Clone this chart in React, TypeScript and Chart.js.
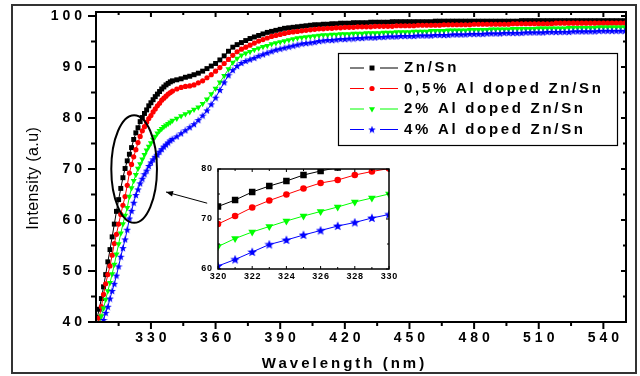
import React, { useEffect, useRef } from 'react';
import { Chart, registerables } from 'chart.js';
import { drawPoint } from 'chart.js/helpers';

Chart.register(...registerables);

// ---------------- data ----------------
const wavelengths = [
  305, 306, 307, 308, 309, 310, 311, 312, 313, 314,
  315, 316, 317, 318, 319, 320, 321, 322, 323, 324,
  325, 326, 327, 328, 329, 330, 331, 332, 333, 334,
  335, 336, 337, 338, 339, 340,
  342, 344, 346, 348, 350, 352, 354, 356, 358, 360,
  362, 364, 366, 368, 370, 372, 374, 376, 378, 380,
  382, 384, 386, 388, 390, 392, 394, 396, 398, 400,
  402, 404, 406, 408, 410, 412, 414, 416, 418, 420,
  422, 424, 426, 428, 430, 432, 434, 436, 438, 440,
  442, 444, 446, 448, 450, 452, 454, 456, 458, 460,
  462, 464, 466, 468, 470, 472, 474, 476, 478, 480,
  482, 484, 486, 488, 490, 492, 494, 496, 498, 500,
  502, 504, 506, 508, 510, 512, 514, 516, 518, 520,
  522, 524, 526, 528, 530, 532, 534, 536, 538, 540,
  542, 544, 546, 548, 550,
];

const znSn = [
  40.8, 42.5, 44.6, 46.9, 49.3, 51.8, 54.2, 56.7, 59.2, 61.7,
  64.0, 66.2, 68.3, 70.1, 71.6, 72.9, 74.2, 75.8, 77.1, 78.1,
  79.3, 80.1, 80.9, 81.6, 82.4, 83.0, 83.6, 84.2, 84.7, 85.2,
  85.7, 86.1, 86.5, 86.8, 87.1, 87.3,
  87.5, 87.7, 88.0, 88.2, 88.5, 88.8, 89.2, 89.7, 90.2, 90.7,
  91.4, 92.2, 93.1, 93.9, 94.4, 94.8, 95.2, 95.6, 95.9, 96.2,
  96.5, 96.8, 97.0, 97.2, 97.4, 97.6, 97.7, 97.8, 97.9, 98.0,
  98.1, 98.2, 98.3, 98.3, 98.4, 98.4, 98.5, 98.5, 98.6, 98.6,
  98.6, 98.7, 98.7, 98.7, 98.7, 98.8, 98.8, 98.8, 98.8, 98.8,
  98.9, 98.9, 98.9, 98.9, 98.9, 98.9, 98.9, 98.9, 98.9, 98.9,
  99.0, 99.0, 99.0, 99.0, 99.0, 99.0, 99.0, 99.0, 99.0, 99.0,
  99.0, 99.0, 99.0, 99.0, 99.0, 99.0, 99.0, 99.0, 99.0, 99.0,
  99.1, 99.1, 99.1, 99.1, 99.1, 99.1, 99.1, 99.1, 99.1, 99.1,
  99.1, 99.1, 99.1, 99.1, 99.1, 99.1, 99.1, 99.1, 99.1, 99.1,
  99.1, 99.1, 99.1, 99.1, 99.1,
];

const al05 = [
  39.0, 40.8, 43.0, 45.4, 47.5, 49.3, 51.0, 53.1, 55.4, 57.2,
  59.2, 61.1, 62.9, 64.6, 66.8, 69.2, 70.9, 72.4, 73.8, 75.2,
  76.4, 77.5, 78.3, 79.2, 79.9, 80.5, 81.2, 81.8, 82.4, 82.9,
  83.5, 83.9, 84.3, 84.7, 85.0, 85.3,
  85.7, 86.0, 86.2, 86.3, 86.5, 86.9, 87.3, 87.9, 88.5, 89.2,
  89.9, 90.7, 91.5, 92.3, 93.0, 93.5, 93.9, 94.3, 94.7, 95.1,
  95.4, 95.7, 96.0, 96.2, 96.4, 96.6, 96.8, 96.9, 97.0, 97.1,
  97.2, 97.3, 97.4, 97.5, 97.5, 97.6, 97.6, 97.7, 97.7, 97.8,
  97.8, 97.8, 97.9, 97.9, 97.9, 97.9, 98.0, 98.0, 98.0, 98.0,
  98.0, 98.1, 98.1, 98.1, 98.1, 98.1, 98.2, 98.2, 98.2, 98.2,
  98.2, 98.2, 98.3, 98.3, 98.3, 98.3, 98.3, 98.3, 98.3, 98.4,
  98.4, 98.4, 98.4, 98.4, 98.4, 98.4, 98.4, 98.4, 98.5, 98.5,
  98.5, 98.5, 98.5, 98.5, 98.5, 98.5, 98.5, 98.5, 98.6, 98.6,
  98.6, 98.6, 98.6, 98.6, 98.6, 98.6, 98.6, 98.6, 98.6, 98.6,
  98.6, 98.6, 98.6, 98.6, 98.6,
];

const al2 = [
  38.0, 39.6, 41.2, 42.7, 44.4, 46.1, 47.7, 49.4, 51.3, 53.3,
  55.3, 57.4, 59.2, 60.9, 62.4, 64.6, 66.3, 67.7, 68.9, 70.1,
  71.0, 71.9, 72.8, 73.7, 74.4, 75.1, 75.8, 76.4, 77.0, 77.5,
  77.9, 78.3, 78.6, 78.9, 79.2, 79.5,
  79.9, 80.4, 80.8, 81.2, 81.7, 82.1, 82.8, 83.7, 84.7, 85.8,
  87.0, 88.3, 89.6, 90.9, 91.7, 92.3, 92.7, 93.0, 93.4, 93.7,
  94.0, 94.2, 94.5, 94.7, 94.9, 95.1, 95.3, 95.5, 95.7, 95.8,
  95.9, 96.0, 96.1, 96.2, 96.3, 96.3, 96.4, 96.4, 96.5, 96.5,
  96.5, 96.6, 96.6, 96.6, 96.7, 96.7, 96.7, 96.7, 96.8, 96.8,
  96.8, 96.9, 96.9, 96.9, 96.9, 97.0, 97.0, 97.0, 97.0, 97.1,
  97.1, 97.1, 97.1, 97.2, 97.2, 97.2, 97.2, 97.2, 97.3, 97.3,
  97.3, 97.3, 97.3, 97.4, 97.4, 97.4, 97.4, 97.4, 97.5, 97.5,
  97.5, 97.5, 97.5, 97.5, 97.6, 97.6, 97.6, 97.6, 97.6, 97.6,
  97.6, 97.7, 97.7, 97.7, 97.7, 97.7, 97.7, 97.7, 97.8, 97.8,
  97.8, 97.8, 97.8, 97.8, 97.8,
];

const al4 = [
  36.0, 37.5, 39.0, 40.4, 41.8, 43.0, 44.6, 46.1, 47.5, 49.1,
  50.9, 52.8, 54.5, 56.2, 58.1, 60.3, 61.8, 63.4, 64.9, 66.0,
  67.2, 68.1, 69.0, 69.7, 70.6, 71.3, 71.9, 72.4, 72.8, 73.4,
  73.9, 74.4, 74.8, 75.2, 75.6, 75.9,
  76.4, 77.0, 77.6, 78.2, 78.8, 79.6, 80.5, 81.5, 82.7, 84.0,
  85.5, 87.0, 88.4, 89.4, 90.2, 90.8, 91.2, 91.5, 91.8, 92.2,
  92.5, 92.8, 93.1, 93.4, 93.6, 93.8, 94.0, 94.2, 94.4, 94.6,
  94.7, 94.8, 94.9, 95.1, 95.2, 95.3, 95.3, 95.4, 95.5, 95.5,
  95.6, 95.6, 95.7, 95.7, 95.8, 95.8, 95.8, 95.9, 95.9, 96.0,
  96.0, 96.0, 96.1, 96.1, 96.1, 96.1, 96.2, 96.2, 96.2, 96.2,
  96.3, 96.3, 96.3, 96.3, 96.4, 96.4, 96.4, 96.4, 96.5, 96.5,
  96.5, 96.5, 96.6, 96.6, 96.6, 96.6, 96.7, 96.7, 96.7, 96.7,
  96.7, 96.8, 96.8, 96.8, 96.8, 96.8, 96.9, 96.9, 96.9, 96.9,
  96.9, 96.9, 97.0, 97.0, 97.0, 97.0, 97.0, 97.0, 97.1, 97.1,
  97.1, 97.1, 97.1, 97.1, 97.1,
];

const insetWavelengths = [320, 321, 322, 323, 324, 325, 326, 327, 328, 329, 330];
const insetZnSn = [72.5, 73.8, 75.4, 76.6, 77.6, 78.8, 79.6, 80.3, 81.0, 81.6, 82.2];
const insetAl05 = [69.0, 70.6, 72.3, 73.7, 74.9, 76.1, 77.2, 77.8, 78.8, 79.5, 80.1];
const insetAl2 = [64.5, 66.1, 67.4, 68.5, 69.6, 70.6, 71.5, 72.4, 73.4, 74.2, 75.0];
const insetAl4 = [60.6, 61.9, 63.4, 64.9, 65.8, 66.8, 67.7, 68.6, 69.3, 70.2, 70.9];

const seriesLabels = ['Zn/Sn', '0,5% Al doped Zn/Sn', '2% Al doped Zn/Sn', '4% Al doped Zn/Sn'];

const xMajorTicks = [330, 360, 390, 420, 450, 480, 510, 540];
const xMinorTicks = [315, 345, 375, 405, 435, 465, 495, 525];
const yMajorTicks = [40, 50, 60, 70, 80, 90, 100];
const yMinorTicks = [45, 55, 65, 75, 85, 95];
const insetXTicks = [320, 321, 322, 323, 324, 325, 326, 327, 328, 329, 330];
const insetXLabels = [320, 322, 324, 326, 328, 330];
const insetYTicks = [60, 65, 70, 75, 80];
const insetYLabels = [60, 70, 80];

// ---------------- styling ----------------
const FONT = "'Liberation Sans', Arial, Helvetica, sans-serif";
const COLORS = ['#000000', '#ff0000', '#00ff00', '#0000ff'];

function makeStar(size: number, color: string) {
  const c = document.createElement('canvas');
  c.width = size;
  c.height = size;
  const g = c.getContext('2d') as CanvasRenderingContext2D;
  const cx = size / 2;
  const cy = size / 2 + 0.3;
  const R = size / 2;
  const r = R * 0.42;
  g.beginPath();
  for (let i = 0; i < 10; i++) {
    const a = -Math.PI / 2 + (i * Math.PI) / 5;
    const rad = i % 2 === 0 ? R : r;
    g.lineTo(cx + rad * Math.cos(a), cy + rad * Math.sin(a));
  }
  g.closePath();
  g.fillStyle = color;
  g.fill();
  return c;
}

function buildDatasets(xs: number[], series: number[][], radii: number[], star: HTMLCanvasElement) {
  const styles: any[] = ['rect', 'circle', 'triangle', star];
  return series.map((vals, i) => ({
    label: seriesLabels[i],
    data: xs.map((x, j) => ({ x, y: vals[j] })),
    borderColor: COLORS[i],
    backgroundColor: COLORS[i],
    borderWidth: 1,
    pointStyle: styles[i],
    pointRotation: i === 2 ? 180 : 0,
    pointRadius: radii[i],
    pointBorderWidth: 0,
    pointBackgroundColor: COLORS[i],
    pointBorderColor: COLORS[i],
    order: 4 - i,
    tension: 0,
  }));
}

// draw text with letter spacing, aligning on the visible width
function drawSpaced(c: any, text: string, x: number, y: number, align: string, sp: number) {
  c.letterSpacing = '0px';
  const w = c.measureText(text).width + (text.length - 1) * sp;
  let x0 = x;
  if (align === 'right') x0 = x - w;
  else if (align === 'center') x0 = x - w / 2;
  c.letterSpacing = sp + 'px';
  c.textAlign = 'left';
  c.fillText(text, x0, y);
  c.letterSpacing = '0px';
}

type TitleSpec = { text: string; font: string; sp: number; x?: number; y?: number } | null;

function patchScale(scale: any, labelSp: number, title: TitleSpec) {
  if (!scale || scale.__patched) return;
  scale.__patched = true;
  scale.drawLabels = function (chartArea: any) {
    const c = this.ctx;
    const items = this.getLabelItems(chartArea);
    c.save();
    for (const it of items) {
      const text = String(it.label ?? '');
      if (!text) continue;
      const o = it.options;
      c.font = it.font.string;
      c.fillStyle = o.color || '#000';
      c.textBaseline = o.textBaseline || 'middle';
      drawSpaced(c, text, o.translation[0], o.translation[1] + (it.textOffset || 0), o.textAlign, labelSp);
    }
    c.restore();
  };
  scale.drawTitle = function () {
    if (!title) return;
    const c = this.ctx;
    c.save();
    c.font = title.font;
    c.fillStyle = '#000';
    c.textBaseline = 'middle';
    if (this.isHorizontal()) {
      drawSpaced(c, title.text, title.x as number, title.y as number, 'center', title.sp);
    } else {
      c.translate(title.x as number, title.y as number);
      c.rotate(-Math.PI / 2);
      drawSpaced(c, title.text, 0, 0, 'center', title.sp);
    }
    c.restore();
  };
}

function fixSize(prop: 'width' | 'height', value: number) {
  return (s: any) => {
    s[prop] = value;
    s.paddingTop = 0;
    s.paddingBottom = 0;
    s.paddingLeft = 0;
    s.paddingRight = 0;
  };
}

const mainSpacing = {
  id: 'mainSpacing',
  beforeDraw(chart: any) {
    const a = chart.chartArea;
    const xs = chart.scales.x;
    const ys = chart.scales.y;
    patchScale(xs, 4, {
      text: 'Wavelength (nm)',
      font: `bold 15px ${FONT}`,
      sp: 3,
      x: (a.left + a.right) / 2 - 18,
      y: xs.bottom - 12.5,
    });
    patchScale(ys, 4, {
      text: 'Intensity (a.u)',
      font: `16px ${FONT}`,
      sp: 0.4,
      x: ys.left + 34,
      y: (a.top + a.bottom) / 2 + 11.5,
    });
  },
};

const insetSpacing = {
  id: 'insetSpacing',
  beforeDraw(chart: any) {
    patchScale(chart.scales.x, 0.8, null);
    patchScale(chart.scales.y, 0.8, null);
  },
};

const mainFrame = {
  id: 'mainFrame',
  afterDatasetsDraw(chart: any) {
    const { ctx, chartArea: a, scales } = chart;
    const x = scales.x;
    const y = scales.y;
    ctx.save();
    ctx.strokeStyle = '#000';
    ctx.lineWidth = 2;
    ctx.strokeRect(a.left, a.top, a.right - a.left, a.bottom - a.top);
    ctx.beginPath();
    for (const t of x.ticks) {
      const px = x.getPixelForValue(t.value);
      const major = xMajorTicks.includes(t.value);
      const lo = major ? 7 : 4;
      const li = major ? 5 : 3;
      ctx.moveTo(px, a.bottom);
      ctx.lineTo(px, a.bottom + lo);
      ctx.moveTo(px, a.top);
      ctx.lineTo(px, a.top + li);
    }
    for (const t of y.ticks) {
      const py = y.getPixelForValue(t.value);
      const major = yMajorTicks.includes(t.value);
      const lo = major ? 8 : 5;
      const li = major ? 5 : 3;
      ctx.moveTo(a.left - lo, py);
      ctx.lineTo(a.left, py);
      ctx.moveTo(a.right, py);
      ctx.lineTo(a.right - li, py);
    }
    ctx.stroke();

    // ellipse marking the zoomed region (data units)
    const cx = x.getPixelForValue(322.2);
    const cy = y.getPixelForValue(70.0);
    const rx = Math.abs(x.getPixelForValue(322.2 + 10.6) - cx);
    const ry = Math.abs(y.getPixelForValue(70.0 + 10.55) - cy);
    ctx.lineWidth = 2;
    ctx.beginPath();
    ctx.ellipse(cx, cy, rx, ry, 0, 0, Math.PI * 2);
    ctx.stroke();

    // arrow from inset toward the ellipse
    const tx = x.getPixelForValue(356.1);
    const ty = y.getPixelForValue(63.3);
    const hx = x.getPixelForValue(337.0);
    const hy = y.getPixelForValue(65.5);
    ctx.lineWidth = 1;
    ctx.beginPath();
    ctx.moveTo(tx, ty);
    ctx.lineTo(hx, hy);
    ctx.stroke();
    const ang = Math.atan2(hy - ty, hx - tx);
    ctx.fillStyle = '#000';
    ctx.beginPath();
    ctx.moveTo(hx, hy);
    ctx.lineTo(hx - 7 * Math.cos(ang) + 2.8 * Math.sin(ang), hy - 7 * Math.sin(ang) - 2.8 * Math.cos(ang));
    ctx.lineTo(hx - 7 * Math.cos(ang) - 2.8 * Math.sin(ang), hy - 7 * Math.sin(ang) + 2.8 * Math.cos(ang));
    ctx.closePath();
    ctx.fill();
    ctx.restore();
  },
};

const boxLegend = {
  id: 'boxLegend',
  afterDraw(chart: any) {
    const ctx = chart.ctx;
    ctx.save();
    ctx.strokeStyle = '#000';
    ctx.lineWidth = 1.2;
    ctx.strokeRect(338.5, 53.5, 279, 92);
    chart.data.datasets.forEach((ds: any, i: number) => {
      const yy = 68 + i * 20.5;
      ctx.strokeStyle = ds.borderColor;
      ctx.lineWidth = 1;
      ctx.beginPath();
      ctx.moveTo(350, yy);
      ctx.lineTo(364, yy);
      ctx.moveTo(380, yy);
      ctx.lineTo(398, yy);
      ctx.stroke();
      ctx.fillStyle = ds.borderColor;
      drawPoint(ctx, { pointStyle: ds.pointStyle, rotation: ds.pointRotation, radius: ds.pointRadius, borderWidth: 0 } as any, 372, yy);
      ctx.fillStyle = '#000';
      ctx.font = `bold 15px ${FONT}`;
      ctx.textBaseline = 'middle';
      drawSpaced(ctx, ds.label, 404, yy, 'left', 2.7);
    });
    ctx.restore();
  },
};

const insetFrame = {
  id: 'insetFrame',
  afterDatasetsDraw(chart: any) {
    const { ctx, chartArea: a, scales } = chart;
    const x = scales.x;
    const y = scales.y;
    ctx.save();
    ctx.strokeStyle = '#000';
    ctx.lineWidth = 1.5;
    ctx.strokeRect(a.left, a.top, a.right - a.left, a.bottom - a.top);
    ctx.lineWidth = 1;
    ctx.beginPath();
    for (const t of x.ticks) {
      const px = x.getPixelForValue(t.value);
      const len = insetXLabels.includes(t.value) ? 3 : 2;
      ctx.moveTo(px, a.bottom);
      ctx.lineTo(px, a.bottom - len);
      ctx.moveTo(px, a.top);
      ctx.lineTo(px, a.top + len);
    }
    for (const t of y.ticks) {
      const py = y.getPixelForValue(t.value);
      const len = insetYLabels.includes(t.value) ? 3 : 2;
      ctx.moveTo(a.left, py);
      ctx.lineTo(a.left + len, py);
      ctx.moveTo(a.right, py);
      ctx.lineTo(a.right - len, py);
    }
    ctx.stroke();
    ctx.restore();
  },
};

export default function App() {
  const mainRef = useRef<HTMLCanvasElement>(null);
  const insetRef = useRef<HTMLCanvasElement>(null);

  useEffect(() => {
    if (!mainRef.current || !insetRef.current) return;
    Chart.defaults.color = '#000';
    const starMain = makeStar(8, COLORS[3]);
    const starInset = makeStar(10, COLORS[3]);

    const main = new Chart(mainRef.current, {
      type: 'line',
      data: {
        datasets: buildDatasets(wavelengths, [znSn, al05, al2, al4], [3.5, 2.6, 3.5, 3], starMain) as any,
      },
      options: {
        animation: false,
        responsive: false,
        events: [],
        layout: { padding: { top: 12, right: 14, left: 0, bottom: 0 } },
        plugins: { legend: { display: false }, tooltip: { enabled: false } },
        scales: {
          x: {
            type: 'linear',
            min: 304.5,
            max: 550.5,
            afterBuildTicks: (s: any) => {
              s.ticks = [...xMinorTicks, ...xMajorTicks].sort((p, q) => p - q).map((v) => ({ value: v }));
            },
            afterFit: fixSize('height', 54),
            grid: { display: false, drawTicks: false },
            border: { display: false },
            ticks: {
              autoSkip: false,
              maxRotation: 0,
              padding: 8,
              color: '#000',
              font: { family: FONT, size: 14, weight: 'bold' },
              callback: (v: any) => (xMajorTicks.includes(Number(v)) ? String(v) : ''),
            },
            title: { display: true, text: 'Wavelength (nm)', font: { family: FONT, size: 15, weight: 'bold' } },
          },
          y: {
            type: 'linear',
            min: 40,
            max: 100.8,
            afterBuildTicks: (s: any) => {
              s.ticks = [...yMinorTicks, ...yMajorTicks].sort((p, q) => p - q).map((v) => ({ value: v }));
            },
            afterFit: fixSize('width', 96),
            grid: { display: false, drawTicks: false },
            border: { display: false },
            ticks: {
              autoSkip: false,
              padding: 14,
              color: '#000',
              font: { family: FONT, size: 14, weight: 'bold' },
              callback: (v: any) => (yMajorTicks.includes(Number(v)) ? String(v) : ''),
            },
            title: { display: true, text: 'Intensity (a.u)', font: { family: FONT, size: 16 } },
          },
        },
      } as any,
      plugins: [mainSpacing, mainFrame, boxLegend],
    });

    const inset = new Chart(insetRef.current, {
      type: 'line',
      data: {
        datasets: buildDatasets(insetWavelengths, [insetZnSn, insetAl05, insetAl2, insetAl4], [4.6, 3.3, 4.5, 4], starInset) as any,
      },
      options: {
        animation: false,
        responsive: false,
        events: [],
        layout: { padding: { top: 11, right: 11, left: 0, bottom: 0 } },
        plugins: { legend: { display: false }, tooltip: { enabled: false } },
        scales: {
          x: {
            type: 'linear',
            min: 320,
            max: 330,
            afterBuildTicks: (s: any) => {
              s.ticks = insetXTicks.map((v) => ({ value: v }));
            },
            afterFit: fixSize('height', 17),
            grid: { display: false, drawTicks: false },
            border: { display: false },
            ticks: {
              autoSkip: false,
              maxRotation: 0,
              padding: 2,
              color: '#000',
              font: { family: FONT, size: 9, weight: 'bold' },
              callback: (v: any) => (insetXLabels.includes(Number(v)) ? String(v) : ''),
            },
          },
          y: {
            type: 'linear',
            min: 60,
            max: 80,
            afterBuildTicks: (s: any) => {
              s.ticks = insetYTicks.map((v) => ({ value: v }));
            },
            afterFit: fixSize('width', 33),
            grid: { display: false, drawTicks: false },
            border: { display: false },
            ticks: {
              autoSkip: false,
              padding: 6,
              color: '#000',
              font: { family: FONT, size: 9, weight: 'bold' },
              callback: (v: any) => (insetYLabels.includes(Number(v)) ? String(v) : ''),
            },
          },
        },
      } as any,
      plugins: [insetSpacing, insetFrame],
    });

    return () => {
      main.destroy();
      inset.destroy();
    };
  }, []);

  return (
    <div style={{ position: 'absolute', left: 0, top: 0, width: 640, height: 376, background: '#fff', overflow: 'hidden' }}>
      <canvas ref={mainRef} width={640} height={376} style={{ position: 'absolute', left: 0, top: 0 }} />
      <canvas ref={insetRef} width={215} height={128} style={{ position: 'absolute', left: 185, top: 158 }} />
      <div
        style={{
          position: 'absolute',
          left: 11,
          top: 4,
          width: 626,
          height: 370,
          border: '2px solid #333',
          boxSizing: 'border-box',
          pointerEvents: 'none',
        }}
      />
    </div>
  );
}
